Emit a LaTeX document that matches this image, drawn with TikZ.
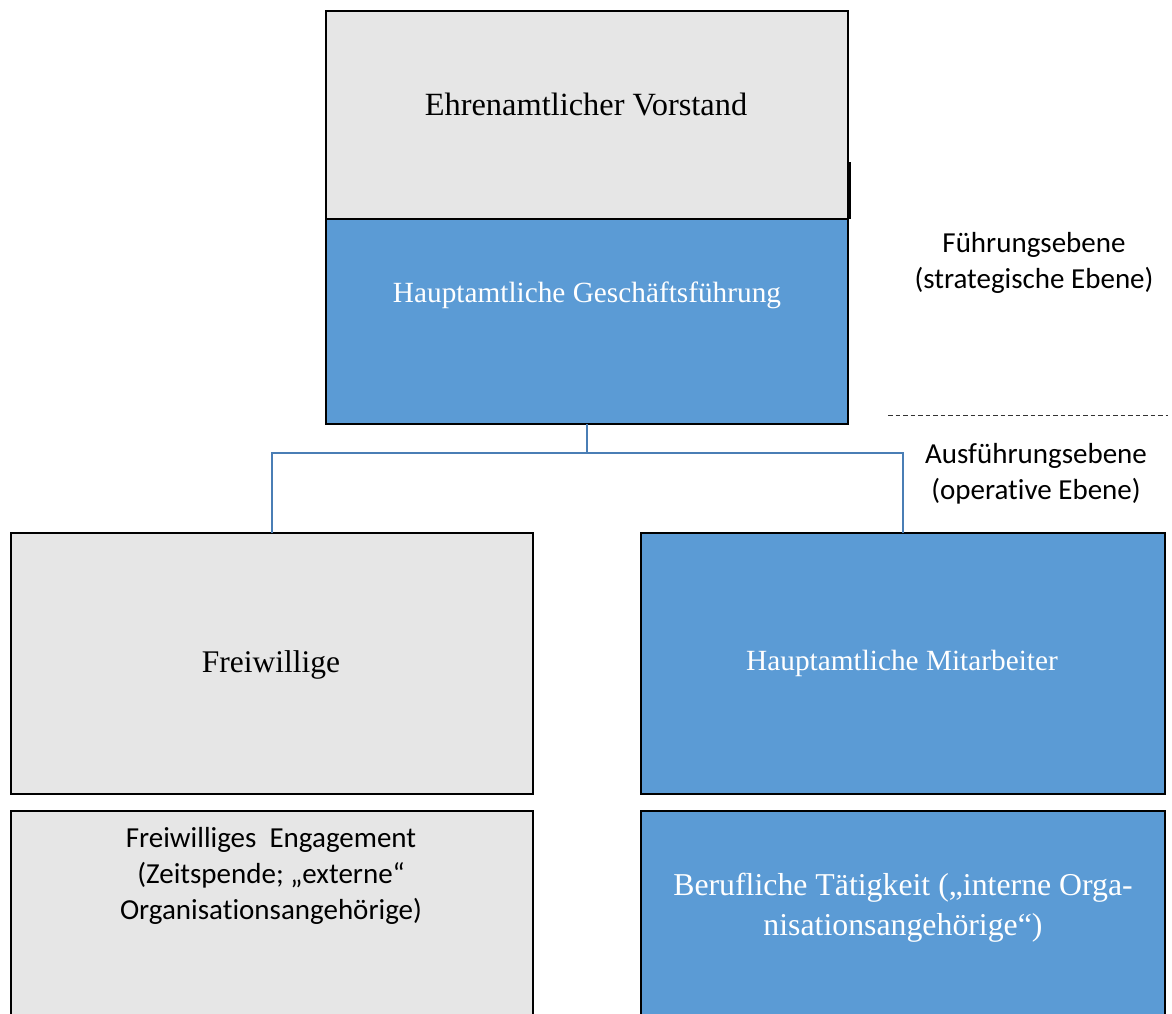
\documentclass[tikz,border=0pt]{standalone}
\usepackage{fontspec}
\usetikzlibrary{calc}
\setmainfont{Liberation Serif}
\newfontfamily\calfont[RawFeature={-liga;-clig;-calt}]{Carlito}
\definecolor{boxgray}{HTML}{E6E6E6}
\definecolor{boxblue}{HTML}{5B9BD5}
\definecolor{linkblue}{HTML}{4A7EB5}
\begin{document}
\begin{tikzpicture}[x=1pt,y=-1pt,
  orgbox/.style={draw=black,line width=2.5pt,inner sep=0pt,outer sep=0pt,rectangle},
  graybox/.style={orgbox,fill=boxgray},
  bluebox/.style={orgbox,fill=boxblue},
  serif/.style={font=\fontsize{#1}{40}\selectfont,inner sep=0pt,align=center},
  sanstext/.style={font=\calfont\fontsize{29}{36}\selectfont,inner sep=0pt,align=center},
  link/.style={draw=linkblue,line width=2pt}]
\clip (0,0) rectangle (1172,1014);
\fill[white] (0,0) rectangle (1172,1014);
% boxes
\node[graybox,minimum width=522pt,minimum height=208pt] (vor) at (587,115) {};
\node[bluebox,minimum width=522pt,minimum height=205pt] (gf) at (587,321.5) {};
\node[graybox,minimum width=522pt,minimum height=261pt] (fw) at (272,663.5) {};
\node[bluebox,minimum width=524pt,minimum height=261pt] (hm) at (903,663.5) {};
\node[graybox,minimum width=522pt,minimum height=220pt] (fe) at (272,921) {};
\node[bluebox,minimum width=524pt,minimum height=220pt] (bt) at (903,921) {};
\draw[line width=2pt] (850,162) -- (850,219);
% texts
\node[serif=32.4] (tvor) at (586,105) {Ehrenamtlicher Vorstand};
\node[serif=29.3,text=white] (tgf) at (587,295) {Hauptamtliche Geschäftsführung};
\node[serif=31.5] (tfw) at (271,665) {Freiwillige};
\node[serif=29.3,text=white] (thm) at (902,663) {Hauptamtliche Mitarbeiter};
\node[sanstext] (tfe) at (271,876) {Freiwilliges\ \ Engagement\\(Zeitspende; „externe“\\Organisationsangehörige)};
\node[serif=31.8,text=white] (tbt) at (903,908) {Berufliche Tätigkeit („interne Orga-\\nisationsangehörige“)};
% connectors
\coordinate (j) at ($(gf.south)+(0,29)$);
\draw[link] (gf.south) -- (j);
\draw[link] (j) -| (fw.north);
\draw[link] (j) -| (hm.north);
% levels
\node[sanstext] (lf) at (1034,263) {Führungsebene\\(strategische Ebene)};
\node[sanstext] (la) at (1036,474) {Ausführungsebene\\(operative Ebene)};
\coordinate (d1) at (888,415);
\coordinate (d2) at (1168,415);
\draw[line width=1pt,draw=black!80,dash pattern=on 4.5pt off 3pt] (d1) -- (d2);
\end{tikzpicture}
\end{document}
